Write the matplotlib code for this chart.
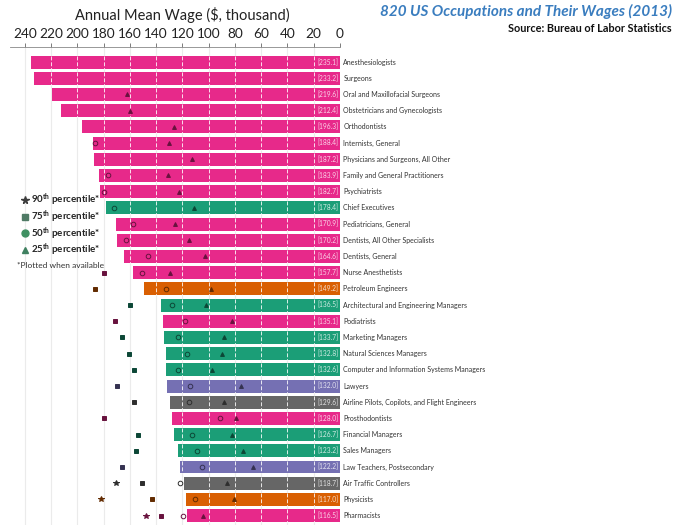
import numpy as np
import matplotlib
matplotlib.use("Agg")
import matplotlib.pyplot as plt
from matplotlib.lines import Line2D
from matplotlib.colors import to_rgb

plt.rcParams['font.family'] = ['Lato', 'DejaVu Sans']
plt.rcParams['mathtext.default'] = 'regular'

nan = np.nan

# occupations, mean wage ($ thousand) and group
jobs = ["Anesthesiologists", "Surgeons", "Oral and Maxillofacial Surgeons",
        "Obstetricians and Gynecologists", "Orthodontists", "Internists, General",
        "Physicians and Surgeons, All Other", "Family and General Practitioners",
        "Psychiatrists", "Chief Executives", "Pediatricians, General",
        "Dentists, All Other Specialists", "Dentists, General", "Nurse Anesthetists",
        "Petroleum Engineers", "Architectural and Engineering Managers", "Podiatrists",
        "Marketing Managers", "Natural Sciences Managers",
        "Computer and Information Systems Managers", "Lawyers",
        "Airline Pilots, Copilots, and Flight Engineers", "Prosthodontists",
        "Financial Managers", "Sales Managers", "Law Teachers, Postsecondary",
        "Air Traffic Controllers", "Physicists", "Pharmacists"]
mean = [235.1, 233.2, 219.6, 212.4, 196.3, 188.4, 187.2, 183.9, 182.7, 178.4,
        170.9, 170.2, 164.6, 157.7, 149.2, 136.5, 135.1, 133.7, 132.8, 132.6,
        132.0, 129.6, 128.0, 126.7, 123.2, 122.2, 118.7, 117.0, 116.5]
group = ["health", "health", "health", "health", "health", "health", "health",
         "health", "health", "mgmt", "health", "health", "health", "health",
         "sci", "mgmt", "health", "mgmt", "mgmt", "mgmt", "legal", "transport",
         "health", "mgmt", "mgmt", "legal", "transport", "sci", "health"]

# percentiles (nan = not available)
p90 = [nan] * 26 + [170.8, 182.0, 148.0]
p75 = [nan] * 13 + [179.6, 186.7, 160.0, 171.4, 166.0, 160.8, 156.9, 170.0,
                    156.9, 179.9, 154.0, 155.4, 166.0, 151.0, 143.0, 136.4]
p50 = [nan, nan, nan, nan, nan, 186.5, nan, 176.8, 179.6, 172.0, 158.0, 163.0,
       146.5, 151.0, 132.8, 128.0, 118.0, 123.4, 116.6, 123.4, 114.3, 115.0,
       91.4, 112.5, 108.8, 105.0, 122.0, 110.5, 119.6]
p25 = [nan, nan, 162.5, 160.0, 126.5, 130.0, 112.5, 131.0, 122.4, 111.0, 126.0,
       115.0, 103.0, 129.5, 98.5, 102.0, 82.0, 88.4, 89.9, 97.5, 75.5, 88.4,
       79.2, 82.0, 73.7, 66.0, 86.0, 80.6, 104.4]

colors = {"health": "#E7298A", "mgmt": "#1B9E77", "sci": "#D95F02",
          "legal": "#7570B3", "transport": "#666666"}

def dark(c, f=0.45):
    r, g, b = to_rgb(c)
    return (r * f, g * f, b * f)

ticks = list(range(0, 241, 20))

fig = plt.figure(figsize=(7, 5.25), dpi=100)
W, H = 700, 525
ax = fig.add_axes([10 / W, 0, 330 / W, 478 / H])

y = np.arange(len(jobs))
h = 0.8
bar_cols = [colors[g] for g in group]
ax.barh(y, mean, height=h, color=bar_cols, zorder=2)

# dashed white gridlines inside bars
for yi, v in zip(y, mean):
    xs = [t for t in ticks if 0 < t < v]
    ax.vlines(xs, yi - h / 2, yi + h / 2, colors='white', linestyles=(0, (4, 2)),
              lw=0.7, alpha=0.85, zorder=3)

# percentile markers
for vals, mk, ms, filled in [(p90, '*', 4, True), (p75, 's', 2.8, True),
                             (p50, 'o', 3.3, False), (p25, '^', 2.8, True)]:
    for yi, v, c in zip(y, vals, bar_cols):
        if np.isnan(v):
            continue
        dc = dark(c)
        ax.plot(v, yi, marker=mk, ms=ms, mec=dc, mew=0.7,
                mfc=dc if filled else 'none', ls='none', zorder=4)

for yi, v, name in zip(y, mean, jobs):
    ax.annotate('[%.1f]' % v, (0, yi), xytext=(-1, 0), textcoords='offset points',
                ha='right', va='center', fontsize=4.8, color='white', alpha=0.8, zorder=5)
    ax.annotate(name, (0, yi), xytext=(2.5, 0), textcoords='offset points',
                ha='left', va='center', fontsize=5, color='#333333',
                annotation_clip=False)

ax.set_xlim(251.4, 0)
ax.set_ylim(len(jobs) - 0.42, -0.93)
ax.set_xticks(ticks)
ax.set_yticks([])
ax.xaxis.tick_top()
ax.tick_params(axis='x', length=3, width=0.6, color='#666666', labelsize=9.8,
               pad=2, labelcolor='#222222')
for s in ['bottom', 'left', 'right']:
    ax.spines[s].set_visible(False)
ax.spines['top'].set_color('#888888')
ax.spines['top'].set_linewidth(0.6)
ax.grid(axis='x', color='#ebebeb', lw=0.8, zorder=0)
ax.set_axisbelow(True)

# titles
fig.text(182 / W, 1 - 15 / H, "Annual Mean Wage ($, thousand)", ha='center',
         va='center', fontsize=10.5, color='#222222')
fig.text(672 / W, 1 - 11 / H, "820 US Occupations and Their Wages (2013)",
         ha='right', va='center', fontsize=11, fontweight='bold', style='italic',
         color='#3A7DBF')
fig.text(672 / W, 1 - 29 / H, "Source: Bureau of Labor Statistics", ha='right',
         va='center', fontsize=7.8, fontweight='bold', color='#111111')

# legend
leg = [('*', '90', '#3d3d3d', True, 5.5), ('s', '75', '#4f7a65', True, 4.5),
       ('o', '50', '#3f9062', True, 5), ('^', '25', '#3f8060', True, 5)]
for i, (mk, num, c, f, ms) in enumerate(leg):
    yy = 1 - (200 + 16.7 * i) / H
    fig.add_artist(Line2D([25 / W], [yy], transform=fig.transFigure, marker=mk,
                          ms=ms, color=c, ls='none'))
    fig.text(31 / W, yy, num + '$^{th}$ percentile*', ha='left', va='center',
             fontsize=7, fontweight='bold', color='#222222')
fig.text(17 / W, 1 - 265 / H, "*Plotted when available", ha='left', va='center',
         fontsize=6, color='#333333')

fig.savefig("out.png", dpi=100)
